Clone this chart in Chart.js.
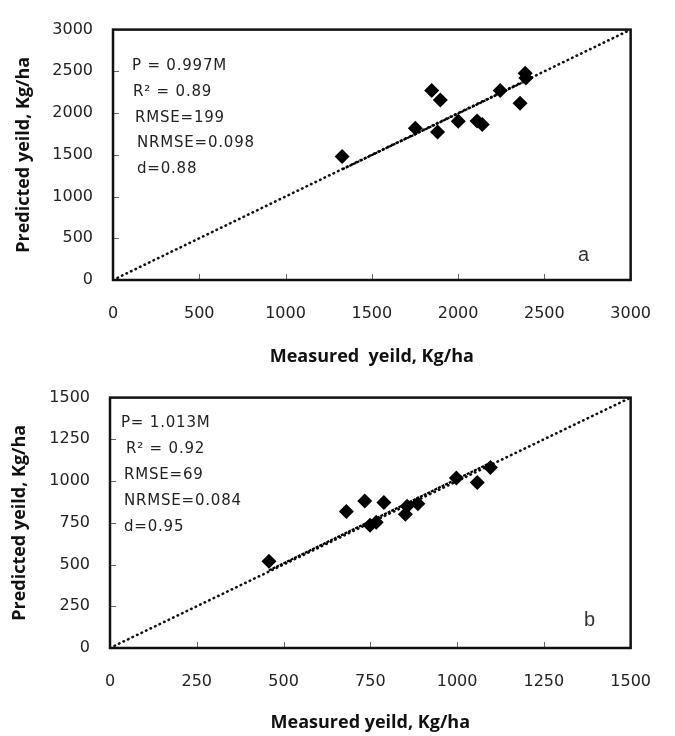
<!DOCTYPE html>
<html>
<head>
<meta charset="utf-8">
<script src="https://cdn.jsdelivr.net/npm/chart.js@4.4.1/dist/chart.umd.min.js"></script>
<style>
  html, body { margin: 0; padding: 0; background: #fff; }
  .panel { position: relative; width: 675px; height: 368px; }
</style>
</head>
<body>
<div class="panel"><canvas id="chartA" width="675" height="368"></canvas></div>
<div class="panel"><canvas id="chartB" width="675" height="368"></canvas></div>
<script>
// panel a
var measuredA  = [1328, 1752, 1847, 1897, 1881, 2001, 2110, 2140, 2244, 2359, 2389, 2393];
var predictedA = [1479, 1818, 2270, 2157, 1773, 1901, 1905, 1863, 2270, 2119, 2477, 2420];
var trendXA = [1328, 2393];
var trendYA = [1325, 2385];
var lineA = [0, 3000];
var ticksA = [0, 500, 1000, 1500, 2000, 2500, 3000];
var statsA = ['P = 0.997M', 'R\u00B2 = 0.89', 'RMSE=199', 'NRMSE=0.098', 'd=0.88'];

// panel b
var measuredB  = [458, 681, 734, 789, 749, 767, 851, 856, 887, 998, 1058, 1096];
var predictedB = [520, 817, 881, 872, 735, 754, 801, 849, 864, 1018, 991, 1082];
var trendXB = [458, 1100];
var trendYB = [465, 1114];
var lineB = [0, 1500];
var ticksB = [0, 250, 500, 750, 1000, 1250, 1500];
var statsB = ['P= 1.013M', 'R\u00B2 = 0.92', 'RMSE=69', 'NRMSE=0.084', 'd=0.95'];

function pts(xs, ys) {
  return xs.map(function (x, i) { return { x: x, y: ys[i] }; });
}

// frame, inward tick marks, stats text and panel letter
var panelPlugin = {
  id: 'panel',
  afterDatasetsDraw: function (chart, args, opts) {
    var ctx = chart.ctx, a = chart.chartArea;
    var xs = chart.scales.x, ys = chart.scales.y;
    ctx.save();
    ctx.strokeStyle = '#666';
    ctx.lineWidth = 1;
    ctx.beginPath();
    xs.ticks.forEach(function (t, i) {
      if (i === 0 || i === xs.ticks.length - 1) return;
      var px = Math.round(xs.getPixelForValue(t.value)) + 0.5;
      ctx.moveTo(px, a.bottom);
      ctx.lineTo(px, a.bottom - 6);
    });
    ys.ticks.forEach(function (t, i) {
      if (i === 0 || i === ys.ticks.length - 1) return;
      var py = Math.round(ys.getPixelForValue(t.value)) + 0.5;
      ctx.moveTo(a.left, py);
      ctx.lineTo(a.left + 6, py);
    });
    ctx.stroke();

    ctx.strokeStyle = '#111';
    ctx.lineWidth = 2.5;
    ctx.strokeRect(a.left, a.top, a.right - a.left, a.bottom - a.top);

    ctx.fillStyle = '#222';
    ctx.font = '15px "DejaVu Sans"';
    ctx.letterSpacing = '0.8px';
    ctx.textAlign = 'left';
    ctx.textBaseline = 'middle';
    opts.stats.forEach(function (s, i) {
      ctx.fillText(s, a.left + opts.indent[i], a.top + opts.first + i * opts.gap);
    });
    ctx.letterSpacing = '0px';

    ctx.fillStyle = '#333';
    ctx.font = '20px "Liberation Sans"';
    ctx.textAlign = 'center';
    ctx.fillText(opts.letter, a.right - opts.letterDx, a.bottom - opts.letterDy);
    ctx.restore();
  }
};

function makeChart(id, cfg) {
  var tickFont = { family: '"DejaVu Sans"', size: 16 };
  var titleFont = { family: '"Open Sans"', size: 18, weight: 'bold' };
  var plain = function (v) { return String(v); };
  return new Chart(document.getElementById(id), {
    type: 'scatter',
    data: {
      datasets: [{
        data: pts(cfg.mx, cfg.py),
        pointStyle: 'rectRot',
        pointRadius: 7.5,
        pointHoverRadius: 7.5,
        backgroundColor: '#000',
        borderColor: '#000',
        borderWidth: 0,
        order: 0
      }, {
        data: pts(cfg.tx, cfg.ty),
        showLine: true,
        pointRadius: 0,
        borderColor: '#000',
        borderWidth: 2.2,
        borderDash: [3, 1],
        order: 1
      }, {
        data: pts(cfg.line, cfg.line),
        showLine: true,
        pointRadius: 0,
        borderColor: '#111',
        borderWidth: 2.6,
        borderDash: [0.5, 4.5],
        borderCapStyle: 'round',
        order: 2
      }]
    },
    options: {
      responsive: false,
      animation: false,
      events: [],
      layout: { padding: { left: 0, right: cfg.padRight, top: cfg.padTop, bottom: 0 } },
      plugins: {
        legend: { display: false },
        tooltip: { enabled: false },
        panel: cfg.panel
      },
      scales: {
        x: {
          type: 'linear',
          min: cfg.ticks[0],
          max: cfg.ticks[cfg.ticks.length - 1],
          afterBuildTicks: function (s) { s.ticks = cfg.ticks.map(function (v) { return { value: v }; }); },
          afterFit: function (s) { s.height = 88; },
          grid: { display: false, drawTicks: false },
          border: { display: false },
          ticks: { padding: 24, font: tickFont, color: '#222', maxRotation: 0, autoSkip: false, callback: plain },
          title: { display: true, text: cfg.xTitle, font: titleFont, color: '#111', padding: { top: 0, bottom: cfg.xTitlePad } }
        },
        y: {
          type: 'linear',
          min: cfg.ticks[0],
          max: cfg.ticks[cfg.ticks.length - 1],
          afterBuildTicks: function (s) { s.ticks = cfg.ticks.map(function (v) { return { value: v }; }); },
          afterFit: function (s) { s.width = cfg.yWidth; },
          grid: { display: false, drawTicks: false },
          border: { display: false },
          ticks: { padding: 20, font: tickFont, color: '#222', autoSkip: false, callback: plain },
          title: { display: true, text: 'Predicted yeild, Kg/ha', font: titleFont, color: '#111', padding: { top: cfg.yTitlePad, bottom: 0 } }
        }
      }
    },
    plugins: [panelPlugin]
  });
}

makeChart('chartA', {
  mx: measuredA, py: predictedA, tx: trendXA, ty: trendYA, line: lineA, ticks: ticksA,
  xTitle: 'Measured  yeild, Kg/ha', xTitlePad: 0, yTitlePad: 13,
  padRight: 23, padTop: 15, yWidth: 113,
  panel: { stats: statsA, indent: [19, 20, 22, 24, 24], first: 37, gap: 25.6, letter: 'a', letterDx: 47, letterDy: 25 }
});

makeChart('chartB', {
  mx: measuredB, py: predictedB, tx: trendXB, ty: trendYB, line: lineB, ticks: ticksB,
  xTitle: 'Measured yeild, Kg/ha', xTitlePad: 2, yTitlePad: 9,
  padRight: 27, padTop: 16, yWidth: 110,
  panel: { stats: statsB, indent: [11, 16, 14, 14, 14], first: 26, gap: 26, letter: 'b', letterDx: 41, letterDy: 28 }
});
</script>
</body>
</html>
